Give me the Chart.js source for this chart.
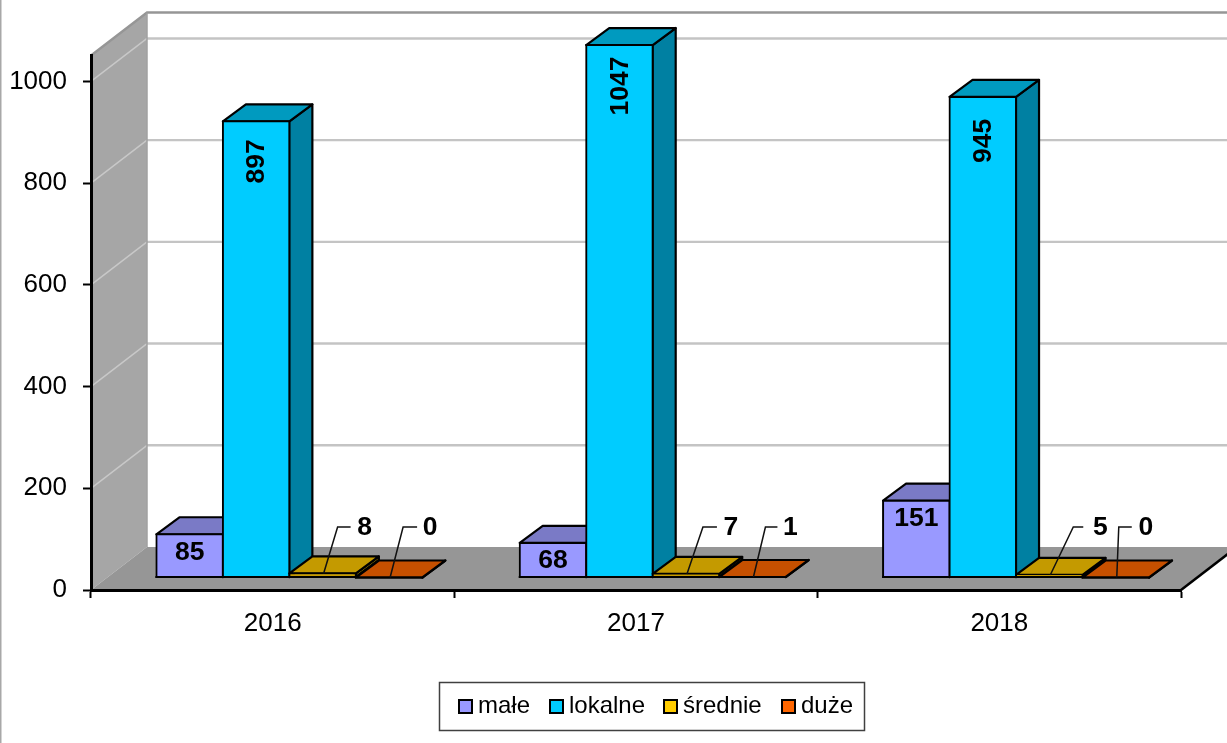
<!DOCTYPE html>
<html lang="pl">
<head>
<meta charset="utf-8">
<style>html,body{margin:0;padding:0;background:#fff}canvas{display:block}</style>
<script src="https://cdn.jsdelivr.net/npm/chart.js@4"></script>
</head>
<body>
<canvas id="c" width="1227" height="743"></canvas>
<script>
const categories = ['2016', '2017', '2018'];
const seriesNames = ['małe', 'lokalne', 'średnie', 'duże'];
const male = [85, 68, 151];
const lokalne = [897, 1047, 945];
const srednie = [8, 7, 5];
const duze = [0, 1, 0];
const yTicks = [0, 200, 400, 600, 800, 1000];

const legendColors = ['#9999FF', '#00CCFF', '#FFCC00', '#FF6600'];
const frontColors = ['#9999FF', '#00CCFF', '#C89C00', '#C65000'];
const topColors = ['#7A7AC6', '#009ABF', '#C49A00', '#C65000'];
const sideColors = ['#6666AA', '#0080A2', '#A08000', '#A04000'];

const FONT = '"Liberation Sans", Arial, sans-serif';
const BAR_SHIFT = {x: 16.7, y: -12.5};
const BAR_DEPTH = {x: 23, y: -17};
const WALL_DEPTH = {x: 56, y: -43};

const CALLOUTS = {
  2: [{elbow: 15, end: 28, text: 42}, {elbow: 17, end: 31, text: 45}, {elbow: 24, end: 34, text: 51}],
  3: [{elbow: 14, end: 28, text: 41}, {elbow: 13, end: 25, text: 38}, {elbow: 3, end: 16, text: 30}]
};
const CALLOUT_Y = 527;
const ROTATED_LABEL_OFFSET = [40, 41, 44];

function poly(ctx, pts, fill, stroke, lw) {
  ctx.beginPath();
  pts.forEach((p, i) => i ? ctx.lineTo(p[0], p[1]) : ctx.moveTo(p[0], p[1]));
  ctx.closePath();
  if (fill) { ctx.fillStyle = fill; ctx.fill(); }
  if (stroke) { ctx.strokeStyle = stroke; ctx.lineWidth = lw || 2; ctx.lineJoin = 'round'; ctx.stroke(); }
}
function line(ctx, pts, color, lw) {
  ctx.beginPath();
  pts.forEach((p, i) => i ? ctx.lineTo(p[0], p[1]) : ctx.moveTo(p[0], p[1]));
  ctx.strokeStyle = color; ctx.lineWidth = lw; ctx.lineJoin = 'miter'; ctx.stroke();
}

const scene3d = {
  id: 'scene3d',
  beforeDraw(chart) {
    const {ctx, chartArea: a, scales: {y}} = chart;
    const dx = WALL_DEPTH.x, dy = WALL_DEPTH.y, W = chart.width;
    ctx.save();
    ctx.fillStyle = '#fff';
    ctx.fillRect(0, 0, W, chart.height);
    ctx.fillStyle = '#A8A8A8';
    ctx.fillRect(0, 0, 1.5, chart.height);
    poly(ctx, [[a.left, a.bottom], [a.left, a.top], [a.left + dx, a.top + dy], [a.left + dx, a.bottom + dy]], '#A6A6A6');
    poly(ctx, [[a.left, a.bottom], [a.left + dx, a.bottom + dy], [a.right + dx, a.bottom + dy], [a.right, a.bottom]], '#969696');
    yTicks.slice(1).forEach(v => {
      const p = y.getPixelForValue(v);
      line(ctx, [[a.left, p], [a.left + dx, p + dy]], '#C8C8C8', 1.5);
      line(ctx, [[a.left + dx, p + dy], [a.right + dx, p + dy]], '#C4C4C4', 2.4);
    });
    line(ctx, [[a.left, a.top], [a.left + dx, a.top + dy], [a.right + dx, a.top + dy]], '#969696', 2.4);
    line(ctx, [[a.left + dx, a.top + dy], [a.left + dx, a.bottom + dy]], '#A0A0A0', 1.5);
    line(ctx, [[a.right, a.bottom], [a.right + dx, a.bottom + dy]], '#000', 2.5);
    ctx.restore();
  },
  beforeDatasetsDraw(chart) {
    const {ctx} = chart;
    const n = chart.data.datasets.length;
    for (let c = 0; c < categories.length; c++) {
      for (let d = 0; d < n; d++) {
        const el = chart.getDatasetMeta(d).data[c];
        const l = el.x - el.width / 2 + BAR_SHIFT.x, r = el.x + el.width / 2 + BAR_SHIFT.x;
        const t = el.y + BAR_SHIFT.y, b = el.base + BAR_SHIFT.y;
        const ox = BAR_DEPTH.x, oy = BAR_DEPTH.y;
        poly(ctx, [[r, t], [r + ox, t + oy], [r + ox, b + oy], [r, b]], sideColors[d], '#000', 2.2);
        poly(ctx, [[l, t], [r, t], [r + ox, t + oy], [l + ox, t + oy]], topColors[d], '#000', 2.2);
        ctx.save();
        ctx.translate(BAR_SHIFT.x, BAR_SHIFT.y);
        el.draw(ctx);
        ctx.restore();
        line(ctx, [[l - 1, b], [r + 1, b]], '#000', 2);
      }
    }
    return false;
  },
  afterDraw(chart) {
    const {ctx} = chart;
    ctx.save();
    ctx.fillStyle = '#000';
    ctx.font = 'bold 26.5px ' + FONT;
    ctx.textAlign = 'center';
    ctx.textBaseline = 'middle';
    chart.data.datasets.forEach((ds, d) => {
      chart.getDatasetMeta(d).data.forEach((el, c) => {
        const cx = el.x + BAR_SHIFT.x, t = el.y + BAR_SHIFT.y;
        const txt = String(ds.data[c]);
        if (d === 0) {
          ctx.fillText(txt, cx, t + 18);
        } else if (d === 1) {
          ctx.save();
          ctx.translate(cx + 1, t + ROTATED_LABEL_OFFSET[c]);
          ctx.rotate(-Math.PI / 2);
          ctx.fillText(txt, 0, 0);
          ctx.restore();
        } else {
          const k = CALLOUTS[d][c];
          line(ctx, [[cx + 1, t], [cx + k.elbow, CALLOUT_Y], [cx + k.end, CALLOUT_Y]], '#111', 1.5);
          ctx.fillText(txt, cx + k.text, CALLOUT_Y + 1);
        }
      });
    });
    ctx.fillStyle = '#fff';
    ctx.strokeStyle = '#404040';
    ctx.lineWidth = 1.5;
    ctx.fillRect(439.5, 682.5, 425, 48);
    ctx.strokeRect(439.5, 682.5, 425, 48);
    const swatchX = [459, 550, 664, 782];
    const textX = [478, 569, 683, 801];
    ctx.font = '24px ' + FONT;
    ctx.textAlign = 'left';
    seriesNames.forEach((name, i) => {
      ctx.fillStyle = legendColors[i];
      ctx.fillRect(swatchX[i], 700, 13, 13);
      ctx.strokeStyle = '#000';
      ctx.lineWidth = 2;
      ctx.strokeRect(swatchX[i], 700, 13, 13);
      ctx.fillStyle = '#000';
      ctx.fillText(name, textX[i], 706);
    });
    ctx.restore();
  }
};

new Chart(document.getElementById('c'), {
  type: 'bar',
  data: {
    labels: categories,
    datasets: [male, lokalne, srednie, duze].map((data, i) => ({
      label: seriesNames[i],
      data,
      backgroundColor: frontColors[i],
      borderColor: '#000',
      borderWidth: 2,
      borderSkipped: false,
      inflateAmount: 1
    }))
  },
  options: {
    responsive: false,
    animation: false,
    events: [],
    layout: {padding: {top: 55.5, right: 46, left: 0, bottom: 0}},
    datasets: {bar: {categoryPercentage: 0.732, barPercentage: 1}},
    plugins: {legend: {display: false}, tooltip: {enabled: false}, title: {display: false}},
    scales: {
      x: {
        afterFit: s => { s.height = 153; },
        grid: {offset: true, drawOnChartArea: false, drawTicks: true, tickLength: 8, tickColor: '#000', tickWidth: 2},
        border: {color: '#000', width: 3},
        ticks: {color: '#000', padding: 10, font: {family: FONT, size: 26}, maxRotation: 0}
      },
      y: {
        min: 0,
        max: 1051,
        afterFit: s => { s.width = 91; },
        grid: {drawOnChartArea: false, drawTicks: true, tickLength: 8, tickColor: '#000', tickWidth: 2},
        border: {color: '#000', width: 3},
        ticks: {color: '#000', padding: 16, stepSize: 200, includeBounds: false, font: {family: FONT, size: 26}, callback: v => String(v)}
      }
    }
  },
  plugins: [scene3d]
});
</script>
</body>
</html>
